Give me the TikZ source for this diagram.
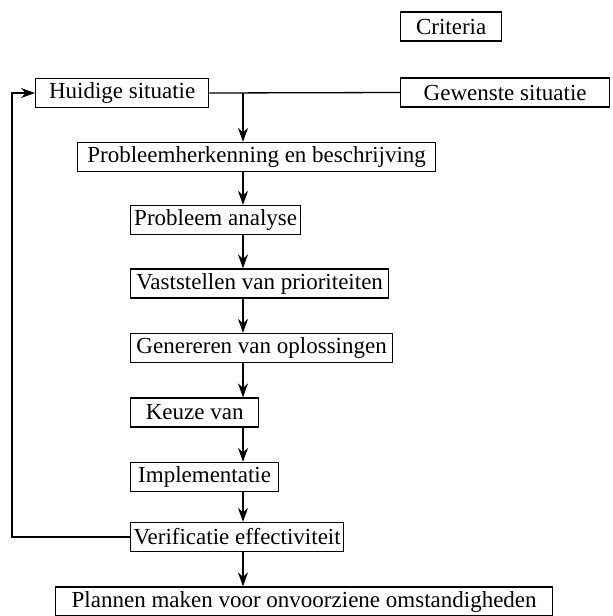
\documentclass[tikz,border=0pt]{standalone}
\usepackage{fontspec}
\setmainfont{Liberation Serif}
\usetikzlibrary{arrows.meta}

\begin{document}
\begin{tikzpicture}[
    x=1pt,
    y=-1pt,
    stap/.style={draw, line width=1.3pt, anchor=west, minimum height=29pt,
        inner sep=1pt, font=\fontsize{23}{26}\selectfont},
    flow/.style={line width=1.3pt, -{Stealth[length=14pt,width=10pt]}}
]

\useasboundingbox (0,0) rectangle (613,616);

% Boxes
\node[stap, minimum width=101pt] (crit) at (400,26.5) {Criteria};
\node[stap, minimum width=173pt] (huidig) at (35,93) {Huidige situatie};
\node[stap, minimum width=209pt] (gewenst) at (400,92.5) {Gewenste situatie};
\node[stap, minimum width=358pt] (herken) at (77,157) {Probleemherkenning en beschrijving};
\node[stap, minimum width=170pt] (analyse) at (130,220) {Probleem analyse};
\node[stap, minimum width=258pt] (prior) at (130,283.5) {Vaststellen van prioriteiten};
\node[stap, minimum width=262pt] (oplos) at (130,348) {Genereren van oplossingen};
\node[stap, minimum width=128pt] (keuze) at (130,412.5) {Keuze van};
\node[stap, minimum width=148pt] (impl) at (130,477) {Implementatie};
\node[stap, minimum width=213pt] (verif) at (130,537) {Verificatie effectiviteit};
\node[stap, minimum width=497pt] (plan) at (55,601.5) {Plannen maken voor onvoorziene omstandigheden};

% Connectors
\coordinate (split) at (243,93);
\coordinate (terug) at (12,93);
\draw[line width=1.3pt] (huidig.east) -- (gewenst.west);
\draw[flow] (split) -- (split |- herken.north);
\foreach \a/\b in {herken/analyse, analyse/prior, prior/oplos, oplos/keuze,
                   keuze/impl, impl/verif, verif/plan} {
    \draw[flow] (\a.south -| split) -- (\b.north -| split);
}
\draw[flow] (verif.west) -| (terug) -- (huidig.west);

\end{tikzpicture}
\end{document}
